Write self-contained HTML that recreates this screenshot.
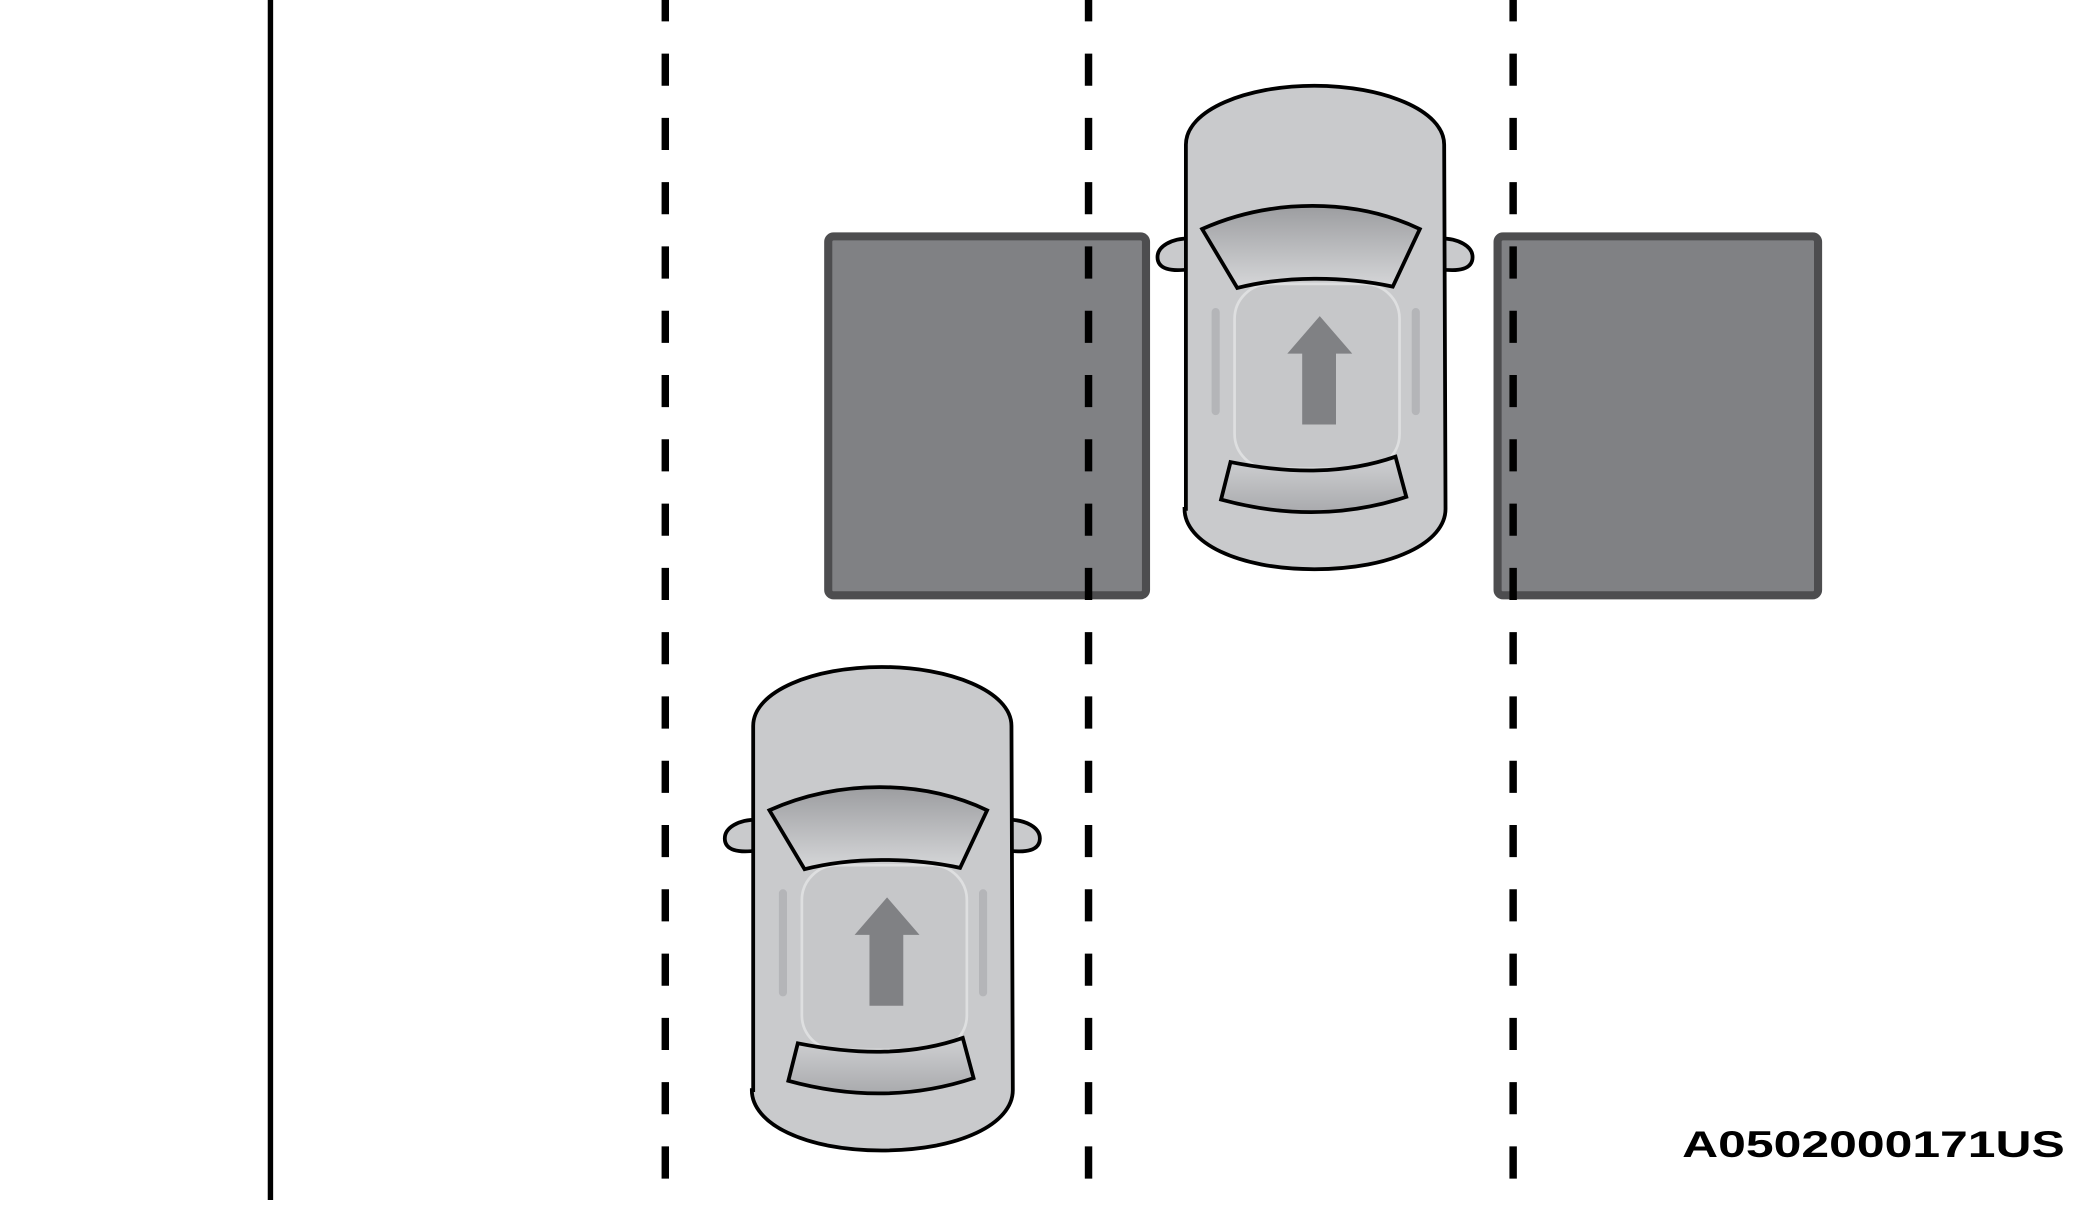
<!DOCTYPE html>
<html><head><style>html,body{margin:0;padding:0;background:#fff;overflow:hidden}</style></head>
<body>
<svg width="2100" height="1200" viewBox="0 0 1553 896" preserveAspectRatio="none" xmlns="http://www.w3.org/2000/svg">
<defs>
<linearGradient id="win" x1="0" y1="0" x2="0" y2="1"><stop offset="0" stop-color="#9c9da0"/><stop offset="1" stop-color="#d6d7d9"/></linearGradient>
<linearGradient id="rwin" x1="0" y1="0" x2="0" y2="1"><stop offset="0" stop-color="#d0d1d3"/><stop offset="1" stop-color="#a9aaad"/></linearGradient>
<g id="car">
  <path d="M880,178 C866,178 856,184 856,192 C856,201 866,203 880,201 Z" fill="#c9cacc" stroke="#000" stroke-width="2.8"/>
  <path d="M1065,178 C1079,178 1089,184 1089,192 C1089,201 1079,203 1065,201 Z" fill="#c9cacc" stroke="#000" stroke-width="2.8"/>
  <path d="M877,380 L877,108 C877,82 922,64 972,64 C1022,64 1068,82 1068,108 L1069,380 C1069,405 1030,425 972,425 C915,425 876,405 876,380 Z" fill="#c9cacc" stroke="#000" stroke-width="2.8"/>
  <rect x="913" y="212" width="122" height="138" rx="26" fill="#c6c7c9" stroke="#dedfe0" stroke-width="2"/>
  <rect x="896" y="230" width="6" height="80" rx="3" fill="#b4b5b8"/>
  <rect x="1044" y="230" width="6" height="80" rx="3" fill="#b4b5b8"/>
  <path d="M889,171 C940,148 1002,148 1050,171 L1030,214 C993,206 950,206 915,215 Z" fill="url(#win)" stroke="#000" stroke-width="2.8"/>
  <path d="M910,345 C955,354 995,354 1032,341 L1040,371 C995,386 950,386 903,373 Z" fill="url(#rwin)" stroke="#000" stroke-width="2.8"/>
  <path d="M952,264 L976,236 L1000,264 L988,264 L988,317 L963,317 L963,264 Z" fill="#808184"/>
</g>
</defs>
<line x1="200" y1="0" x2="200" y2="896" stroke="#000" stroke-width="4"/>
<rect x="612.5" y="176.5" width="235" height="268" rx="4" fill="#808184" stroke="#4d4d4f" stroke-width="6"/>
<rect x="1107.5" y="176.5" width="237" height="268" rx="4" fill="#808184" stroke="#4d4d4f" stroke-width="6"/>
<g stroke="#000" stroke-width="5.5" stroke-dasharray="24,24">
<line x1="492" y1="-8" x2="492" y2="896"/>
<line x1="805" y1="-8" x2="805" y2="896"/>
<line x1="1119" y1="-8" x2="1119" y2="896"/>
</g>
<use href="#car"/>
<use href="#car" transform="translate(-320,434)"/>
<text x="1244" y="864" font-family="Liberation Sans, sans-serif" font-weight="bold" font-size="28" textLength="283" lengthAdjust="spacingAndGlyphs" fill="#000">A0502000171US</text>
</svg>
</body></html>
